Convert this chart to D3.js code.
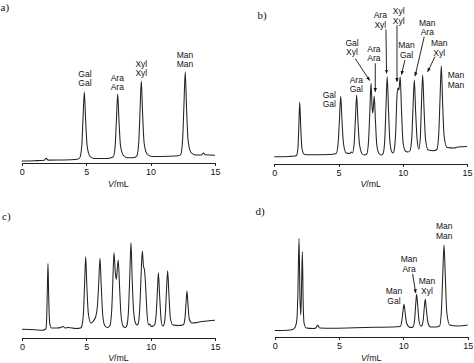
<!DOCTYPE html>
<head>
<meta charset="utf-8">
<title>Chromatograms a-d</title>
<script src="https://d3js.org/d3.v7.min.js"></script>
<style>
body { margin: 0; background: #fff; }
svg { display: block; }
.trace { fill: none; stroke: #222; stroke-width: 1.05px; stroke-linejoin: round; }
.axis path, .axis line { stroke: #222; stroke-width: 1px; shape-rendering: crispEdges; }
.axis text { font-family: "Liberation Sans", Arial, sans-serif; font-size: 9px; fill: #111; }
.lab { font-family: "Liberation Sans", Arial, sans-serif; font-size: 8.5px; fill: #111; text-anchor: middle; }
.xlab { font-family: "Liberation Sans", Arial, sans-serif; font-size: 8.8px; fill: #111; text-anchor: middle; }
.tag { font-family: "Liberation Serif", "Times New Roman", serif; font-size: 11px; fill: #111; }
.arrow { stroke: #111; stroke-width: 0.9px; }
</style>
</head>
<body>
<script>

// elution volume ticks (mL)
const vTicks = [0, 5, 10, 15];

// traces: [V / mL, detector signal]
const traceA = [[0,1],[1,1.3],[1.75,1.8],[1.9,3.8],[2.05,1.9],[3.3,2],[4.3,2.7],
  [4.5,4],[4.66,16],[4.76,44],[4.86,70],[4.96,42],[5.08,16],[5.3,5.5],[5.6,3.5],[6.5,3.4],
  [7.1,5],[7.25,16],[7.35,42],[7.45,68],[7.55,41],[7.67,16],[7.9,6.5],[8.2,4.3],[8.75,4.6],
  [8.93,6],[9.08,19],[9.18,50],[9.28,81],[9.38,49],[9.5,19],[9.73,8],[10.1,5.6],[11.5,5.8],[12.15,6.2],
  [12.34,7.5],[12.49,23],[12.59,57],[12.69,90],[12.79,55],[12.91,22],[13.14,9.5],[13.5,7],[13.95,7],[14.1,9],[14.25,7.2],[15,6.8]];

const traceB = [[0,5.3],[1.2,5.6],[1.6,6],
  [1.72,6.5],[1.84,14],[1.91,36],[1.98,60],[2.06,34],[2.16,13],[2.35,7.5],[2.8,7.3],[4.3,7.5],
  [4.82,8.5],[4.97,19],[5.07,42],[5.17,66],[5.27,41],[5.39,18],[5.6,9],[5.88,8.5],[6.0,10],[6.08,9],
  [6.22,19],[6.31,42],[6.41,67],[6.51,41],[6.63,18],[6.85,8],[7.0,7],
  [7.2,8],[7.34,22],[7.44,52],[7.53,78.7],[7.61,55],[7.66,49],[7.71,55],[7.78,66],[7.87,42],[7.98,17],[8.15,8.5],[8.35,7],
  [8.47,8.5],[8.6,22],[8.69,54],[8.79,85.3],[8.89,52],[9.0,20],[9.15,10],[9.25,9],
  [9.32,11],[9.45,30],[9.55,66],[9.63,74],[9.7,72],[9.8,85.3],[9.9,52],[10.02,20],[10.2,11],[10.4,10],
  [10.55,11],[10.7,24],[10.8,55],[10.9,82],[11.0,51],[11.12,22],[11.25,13],
  [11.37,25],[11.45,56],[11.55,87],[11.65,55],[11.77,23],[11.98,12],[12.4,11.3],
  [12.65,12.5],[12.8,28],[12.9,63],[13.0,96.3],[13.1,60],[13.22,26],[13.45,14.5],[14.0,14],[14.3,15],[15,15.5]];

const traceC = [[0,6.7],[1.0,6.3],[1.6,5.8],[1.85,7],
  [1.9,12],[1.96,40],[2.02,72.5],[2.08,36],[2.16,12],[2.3,8],[2.7,8],[3.0,8.5],[3.2,9.5],[3.35,8],[3.6,8.5],[4.2,7.5],[4.55,8],
  [4.65,10],[4.78,24],[4.87,54],[4.95,79.3],[5.04,50],[5.16,22],[5.35,13],[5.55,15],[5.72,19],
  [5.86,30],[5.96,52],[6.06,77.7],[6.16,50],[6.28,20],[6.45,10],[6.65,8.5],
  [6.82,10],[6.97,25],[7.06,55],[7.15,83.3],[7.24,66],[7.33,56.7],[7.4,66],[7.48,76],[7.58,50],[7.7,20],[7.88,9.5],[8.05,8.5],
  [8.16,11],[8.29,29],[8.38,62],[8.47,93.3],[8.56,58],[8.68,24],[8.85,12],[8.95,11],
  [9.05,13],[9.16,30],[9.26,62],[9.35,85],[9.44,70],[9.52,66],[9.6,52],[9.72,22],[9.85,11],[9.92,12],[10.05,9.5],[10.2,10],
  [10.3,11],[10.43,22],[10.52,44],[10.6,63.3],[10.69,42],[10.8,18],[10.92,10],
  [11.02,11],[11.14,22],[11.23,45],[11.32,65.3],[11.41,44],[11.53,18],[11.72,11],[12.2,10.5],[12.5,11],
  [12.58,12],[12.68,20],[12.75,33],[12.82,45],[12.9,32],[13.0,17],[13.2,13],[14,14.5],[15,15.7]];

const traceD = [[0,4.5],[1.0,4.8],[1.4,5.5],[1.6,8],[1.72,15],[1.8,40],[1.89,96.7],[1.96,40],[2.03,20],
  [2.09,50],[2.15,83.3],[2.21,35],[2.28,12],[2.45,7],[3.0,6.5],[3.2,7],[3.34,10],[3.5,7],[4.5,6.8],[7,7.5],[9.5,8.3],
  [9.75,8.5],[9.88,14],[9.97,24],[10.05,30.7],[10.13,23],[10.25,12],[10.45,8],[10.6,7.5],
  [10.75,8],[10.88,16],[10.96,31],[11.03,40.7],[11.11,30],[11.22,14],[11.35,9],
  [11.45,9.5],[11.55,16],[11.63,28],[11.7,35.7],[11.78,27],[11.9,13],[12.1,8],[12.5,8],
  [12.82,9],[12.96,25],[13.06,60],[13.16,90],[13.26,58],[13.38,22],[13.6,10],[14.2,9],[15,10]];

// peak labels: two text lines, anchor in (V, signal); optional arrow [v0,s0,v1,s1]
const labelsA = [
  {t: ["Gal", "Gal"], v: 4.91, s: 75.7},
  {t: ["Ara", "Ara"], v: 7.42, s: 71.7},
  {t: ["Xyl", "Xyl"], v: 9.28, s: 85.7},
  {t: ["Man", "Man"], v: 12.67, s: 94.7}
];
const labelsB = [
  {t: ["Gal", "Gal"], v: 4.28, s: 54.7},
  {t: ["Ara", "Gal"], v: 6.38, s: 69.7},
  {t: ["Gal", "Xyl"], v: 6.05, s: 106.7, a: [6.3, 103.5, 7.42, 81.5]},
  {t: ["Ara", "Ara"], v: 7.76, s: 100.7, a: [7.86, 98.7, 7.86, 70.3]},
  {t: ["Ara", "Xyl"], v: 8.25, s: 134.3, a: [8.69, 132.5, 8.74, 88.7]},
  {t: ["Xyl", "Xyl"], v: 9.68, s: 138, a: [9.55, 136.7, 9.55, 80.3]},
  {t: ["Man", "Gal"], v: 10.29, s: 104.5, a: [10.17, 102, 9.9, 87.5]},
  {t: ["Man", "Ara"], v: 11.91, s: 126.7, a: [11.67, 125.3, 10.96, 86]},
  {t: ["Man", "Xyl"], v: 12.84, s: 106.3, a: [12.51, 105.3, 11.94, 90.3]},
  {t: ["Man", "Man"], v: 14.14, s: 74}
];
const labelsC = [];
const labelsD = [
  {t: ["Man", "Gal"], v: 9.27, s: 31},
  {t: ["Man", "Ara"], v: 10.44, s: 63, a: [10.72, 61, 10.96, 42]},
  {t: ["Man", "Xyl"], v: 11.83, s: 41.3},
  {t: ["Man", "Man"], v: 13.18, s: 96}
];

const width = 474, height = 363;

const panels = [
  {tag: "a)", tx: 0.5, ty: 11, trace: traceA, labels: labelsA, x0: 21.7, x1: 215, axisY: 163, base: 162},
  {tag: "b)", tx: 257.5, ty: 18.5, trace: traceB, labels: labelsB, x0: 274.3, x1: 467, axisY: 163.5, base: 162},
  {tag: "c)", tx: 2, ty: 219.5, trace: traceC, labels: labelsC, x0: 22, x1: 215, axisY: 337.7, base: 336},
  {tag: "d)", tx: 255.5, ty: 214.5, trace: traceD, labels: labelsD, x0: 274.7, x1: 467.7, axisY: 337, base: 335}
];

let svg = d3.select('body').append('svg')
  .attr('width', width)
  .attr('height', height);

svg.append('defs').append('marker')
    .attr('id', 'head')
    .attr('viewBox', '0 0 10 10')
    .attr('refX', 9).attr('refY', 5)
    .attr('markerWidth', 4.2).attr('markerHeight', 4.2)
    .attr('markerUnits', 'userSpaceOnUse')
    .attr('orient', 'auto')
  .append('path')
    .attr('d', 'M0,1 L10,5 L0,9 Z')
    .attr('fill', '#111');

panels.forEach(p => {
  let x = d3.scaleLinear().domain([0, 15]).range([p.x0, p.x1]);
  let y = d3.scaleLinear().domain([0, 100]).range([p.base, p.base - 100]);

  let g = svg.append('g');

  g.append('text')
    .attr('class', 'tag')
    .attr('x', p.tx)
    .attr('y', p.ty)
    .text(p.tag);

  let axis = g.append('g')
    .attr('class', 'axis')
    .attr('transform', 'translate(0,' + p.axisY + ')')
    .call(d3.axisBottom(x).tickValues(vTicks).tickSize(3).tickSizeOuter(0).tickPadding(3));
  axis.selectAll('text').attr('fill', '#111');

  let xl = g.append('text')
    .attr('class', 'xlab')
    .attr('x', (p.x0 + p.x1) / 2)
    .attr('y', p.axisY + 23.5);
  xl.append('tspan').style('font-style', 'italic').text('V');
  xl.append('tspan').text('/mL');

  let line = d3.line()
    .x(d => x(d[0]))
    .y(d => y(d[1]))
    .curve(d3.curveMonotoneX);

  g.append('path')
    .attr('class', 'trace')
    .attr('d', line(p.trace));

  p.labels.forEach(l => {
    let t = g.append('text').attr('class', 'lab');
    t.append('tspan').attr('x', x(l.v)).attr('y', y(l.s) - 9.7).text(l.t[0]);
    t.append('tspan').attr('x', x(l.v)).attr('y', y(l.s)).text(l.t[1]);
    if (l.a) {
      g.append('line')
        .attr('class', 'arrow')
        .attr('x1', x(l.a[0])).attr('y1', y(l.a[1]))
        .attr('x2', x(l.a[2])).attr('y2', y(l.a[3]))
        .attr('marker-end', 'url(#head)');
    }
  });
});

</script>
</body>
